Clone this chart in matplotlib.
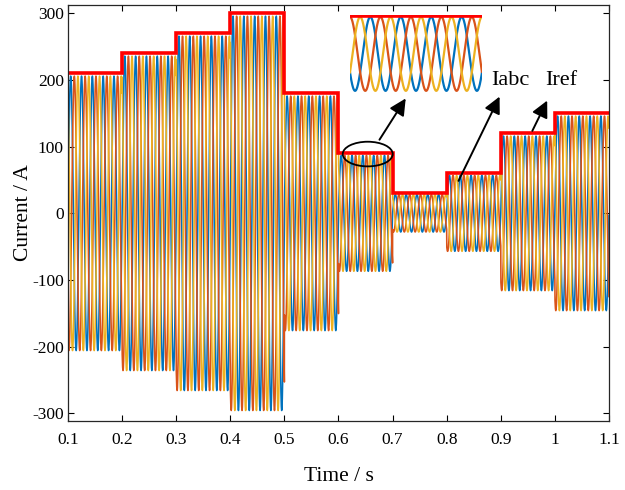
import numpy as np
import matplotlib
matplotlib.use("Agg")
import matplotlib.pyplot as plt
from matplotlib.patches import Ellipse

plt.rcParams['font.family'] = ['Liberation Serif', 'DejaVu Serif']
plt.rcParams['axes.unicode_minus'] = False

# step boundaries (s)
seg_start = [0.1, 0.2, 0.3, 0.4, 0.5, 0.6, 0.7, 0.8, 0.9, 1.0]
seg_end = [0.2, 0.3, 0.4, 0.5, 0.6, 0.7, 0.8, 0.9, 1.0, 1.1]
# reference amplitude Iref (A)
iref = [210, 240, 270, 300, 180, 90, 30, 60, 120, 150]
# measured phase current amplitude Iabc (A)
iabc = [206, 236, 266, 296, 176, 87, 28, 57, 116, 146]
freq = 50.0
phase_colors = ['#0072BD', '#D95319', '#EDB120']
phase_shift = [0.0, -2*np.pi/3, 2*np.pi/3]

fig = plt.figure(figsize=(6.25, 4.9), dpi=100)
ax = fig.add_axes([0.1088, 0.1418, 0.8656, 0.847])

t_all, a_all = [], []
for s, e, a in zip(seg_start, seg_end, iabc):
    t = np.linspace(s, e, 1500, endpoint=False)
    t_all.append(t)
    a_all.append(np.full_like(t, a))
t_all = np.concatenate(t_all)
a_all = np.concatenate(a_all)

for c, ph in zip(phase_colors, phase_shift):
    ax.plot(t_all, a_all*np.sin(2*np.pi*freq*t_all + ph), color=c, lw=1.15)

# reference step line
xs = seg_start + [seg_end[-1]]
ys = iref + [iref[-1]]
ax.step(xs, ys, where='post', color='red', lw=2.6, solid_joinstyle='miter')

ax.set_xlim(0.1, 1.1)
ax.set_ylim(-311, 312)
ax.set_xticks([0.1, 0.2, 0.3, 0.4, 0.5, 0.6, 0.7, 0.8, 0.9, 1.0, 1.1])
ax.set_xticklabels(['0.1', '0.2', '0.3', '0.4', '0.5', '0.6', '0.7', '0.8', '0.9', '1', '1.1'])
ax.set_yticks([-300, -200, -100, 0, 100, 200, 300])
ax.tick_params(direction='in', top=True, right=True, labelsize=12.5, length=4, width=0.8)
ax.tick_params(axis='x', pad=8)
ax.tick_params(axis='y', pad=3)
for sp in ax.spines.values():
    sp.set_linewidth(0.9)
    sp.set_color('#262626')
ax.set_xlabel('Time / s', fontsize=15.5, labelpad=14)
ax.set_ylabel('Current / A', fontsize=15.5, labelpad=-1)

# ellipse + arrows + labels
ax.add_patch(Ellipse((0.654, 89), 0.0924, 37, fill=False, color='black', lw=1.3, zorder=5))
akw = dict(arrowstyle='-|>,head_length=1.0,head_width=0.5', color='black', lw=1.4)
ax.annotate('', xy=(0.727, 176), xytext=(0.673, 107), arrowprops=akw, zorder=6)
ax.annotate('', xy=(0.900, 179), xytext=(0.8196, 45), arrowprops=akw, zorder=6)
ax.annotate('', xy=(0.988, 173), xytext=(0.956, 120), arrowprops=akw, zorder=6)
ax.text(0.917, 200, 'Iabc', fontsize=16, ha='center', va='center')
ax.text(1.011, 199, 'Iref', fontsize=16, ha='center', va='center')

# inset zoom
ins = fig.add_axes([0.56, 0.812, 0.211, 0.157])
t0 = 0.6 + (210.0/360.0)/freq
ti = np.linspace(t0, t0 + 4.33/freq, 2000)
for c, ph in zip(phase_colors, phase_shift):
    ins.plot(ti, iabc[5]*np.sin(2*np.pi*freq*ti + ph), color=c, lw=1.6)
ins.plot([ti[0], ti[-1]], [iref[5], iref[5]], color='red', lw=2.6)
ins.set_xlim(ti[0], ti[-1])
ins.set_ylim(-90, 91)
ins.axis('off')

fig.savefig('out.png', dpi=100)
